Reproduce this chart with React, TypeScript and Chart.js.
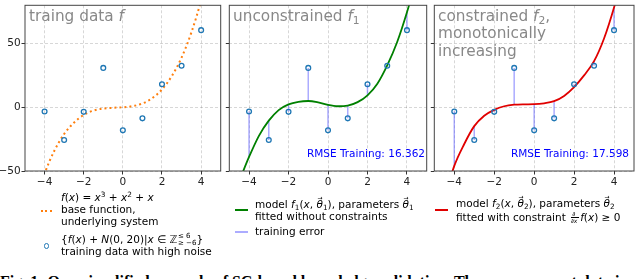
import React, { useEffect, useRef } from 'react';
import { Chart, registerables } from 'chart.js';

Chart.register(...registerables);
Chart.defaults.font.family = '"DejaVu Sans", sans-serif';

// ---------------- data ----------------
const xTicks = [-4, -2, 0, 2, 4];
const yTicks = [-50, 0, 50];
const xMin = -5;
const xMax = 5;
const yMin = -50;
const yMax = 80;

const trainX = [-4, -3, -2, -1, 0, 1, 2, 3, 4];
const trainY = [-3.3, -25.7, -3.6, 30.9, -18.1, -8.7, 18.1, 32.6, 60.5];

const curveX = [-4.5, -4, -3.5, -3, -2.5, -2, -1.5, -1, -0.5, 0, 0.5, 1, 1.5, 2, 2.5, 3, 3.5, 4, 4.5];
const baseY = [-75.4, -52, -34.1, -21, -12.1, -6, -2.6, -1, -0.4, 0, 0.9, 3, 7.1, 14, 24.4, 39, 58.6, 84, 115.9];
const model1Y = [-58, -39, -22.4, -10.5, -2.2, 2.3, 4.3, 4.9, 3.8, 1.8, 0.8, 1.3, 4.0, 9.4, 18.5, 32.9, 51, 74.5, 102];
const model2Y = [-72, -46, -28.8, -14.8, -6.6, -2.0, 0.8, 2.0, 2.3, 2.4, 3.1, 4.8, 8.9, 15.8, 25, 36.2, 54, 78.3, 108];

const rmse1 = '16.362';
const rmse2 = '17.598';

// ---------------- helpers ----------------
const FF = '"DejaVu Sans", sans-serif';
const H = 195;

const pts = (xs: number[], ys: number[]) => xs.map((x, i) => ({ x, y: ys[i] }));
const errorSegments = (modelY: number[]) => {
  const out: any[] = [];
  trainX.forEach((x, i) => {
    const m = modelY[curveX.indexOf(x)];
    out.push({ x, y: trainY[i] }, { x, y: m }, { x, y: null });
  });
  return out;
};
const fmt = (v: any) => (Number(v) < 0 ? '\u2212' + Math.abs(Number(v)) : String(v));

const pointDs = () => ({
  label: 'training data',
  data: pts(trainX, trainY),
  showLine: false,
  pointRadius: 2.4,
  pointBorderWidth: 1.3,
  pointBorderColor: '#1f77b4',
  pointBackgroundColor: 'rgba(0,0,0,0)',
  order: 0,
});
const lineDs = (label: string, ys: number[], color: string, width: number, dash: number[] = []) => ({
  label,
  data: pts(curveX, ys),
  showLine: true,
  pointRadius: 0,
  borderColor: color,
  borderWidth: width,
  borderDash: dash,
  cubicInterpolationMode: 'monotone',
  fill: false,
  clip: 0,
  order: 1,
});
const errDs = (modelY: number[]) => ({
  label: 'training error',
  data: errorSegments(modelY),
  showLine: true,
  spanGaps: false,
  pointRadius: 0,
  borderColor: 'rgba(90,90,255,0.5)',
  borderWidth: 1.5,
  clip: 0,
  order: 2,
});

const framePlugin = {
  id: 'frame',
  afterDraw(chart: any) {
    const { ctx, chartArea: a } = chart;
    ctx.save();
    ctx.strokeStyle = '#444';
    ctx.lineWidth = 1;
    ctx.strokeRect(a.left, a.top, a.right - a.left, a.bottom - a.top);
    ctx.restore();
  },
};

type PanelProps = { left: number; width: number; yWidth: number; padRight: number; showY: boolean; datasets: any[] };

function PanelChart({ left, width, yWidth, padRight, showY, datasets }: PanelProps) {
  const ref = useRef<HTMLCanvasElement>(null);
  useEffect(() => {
    const chart = new Chart(ref.current as HTMLCanvasElement, {
      type: 'scatter',
      data: { datasets },
      options: {
        animation: false,
        responsive: false,
        maintainAspectRatio: false,
        events: [],
        layout: { padding: { left: 0, right: padRight, top: 1, bottom: 0 } },
        plugins: { legend: { display: false }, tooltip: { enabled: false } },
        scales: {
          x: {
            type: 'linear',
            min: xMin,
            max: xMax,
            afterBuildTicks: (s: any) => {
              s.ticks = xTicks.map((v) => ({ value: v }));
            },
            afterFit: (s: any) => {
              s.height = H - 171;
              s.paddingLeft = 0;
              s.paddingRight = 0;
            },
            ticks: { font: { size: 10.5 }, color: '#222', padding: 1.5, maxRotation: 0, callback: (v: any) => fmt(v) },
            grid: { color: 'rgba(0,0,0,0.2)', lineWidth: 0.8, tickLength: 3.5, tickColor: '#333', tickWidth: 1, tickBorderDash: [] },
            border: { display: false, dash: [3, 2] },
          },
          y: {
            type: 'linear',
            min: yMin,
            max: yMax,
            afterBuildTicks: (s: any) => {
              s.ticks = yTicks.map((v) => ({ value: v }));
            },
            afterFit: (s: any) => {
              s.width = yWidth;
              s.paddingTop = 0;
              s.paddingBottom = 0;
            },
            ticks: { display: showY, font: { size: 10.5 }, color: '#222', padding: 0.8, callback: (v: any) => fmt(v) },
            grid: { color: 'rgba(0,0,0,0.2)', lineWidth: 0.8, tickLength: 3.5, tickColor: '#333', tickWidth: 1, tickBorderDash: [] },
            border: { display: false, dash: [3, 2] },
          },
        },
      } as any,
      plugins: [framePlugin],
    } as any);
    return () => chart.destroy();
  }, []);
  return <canvas ref={ref} width={width} height={H} style={{ position: 'absolute', left, top: 0, width, height: H }} />;
}

// ---------------- text helpers ----------------
function Txt({ x, b, s, color = '#000', right = false, children }: any) {
  const style: any = {
    position: 'absolute',
    top: b - 0.846 * s,
    fontSize: s,
    lineHeight: s + 'px',
    whiteSpace: 'nowrap',
    color,
    fontFamily: FF,
  };
  if (right) {
    style.right = 640 - x;
    style.textAlign = 'right';
  } else style.left = x;
  return <div style={style}>{children}</div>;
}
const I = ({ children }: any) => <span style={{ fontStyle: 'italic' }}>{children}</span>;
const Sup = ({ children }: any) => (
  <span style={{ fontSize: '0.7em', position: 'relative', top: '-0.55em', lineHeight: 0 }}>{children}</span>
);
const Sub = ({ children }: any) => (
  <span style={{ fontSize: '0.7em', position: 'relative', top: '0.3em', lineHeight: 0 }}>{children}</span>
);
const Theta = ({ sub }: any) => (
  <span style={{ position: 'relative' }}>
    <I>θ</I>
    <span style={{ position: 'absolute', left: 1, top: -3.5, fontSize: 6, lineHeight: '6px' }}>→</span>
    <Sub>{sub}</Sub>
  </span>
);
const Scripts = ({ up, down, w, fs }: any) => (
  <span style={{ display: 'inline-block', position: 'relative', width: w, height: 0 }}>
    <span style={{ position: 'absolute', left: 0.5, bottom: 3.0, fontSize: fs, lineHeight: fs + 'px', whiteSpace: 'nowrap' }}>{up}</span>
    <span style={{ position: 'absolute', left: 0.5, bottom: -4.6, fontSize: fs, lineHeight: fs + 'px', whiteSpace: 'nowrap' }}>{down}</span>
  </span>
);
const Frac = () => (
  <span style={{ display: 'inline-block', position: 'relative', width: 9, height: 0, margin: '0 1px' }}>
    <span style={{ position: 'absolute', left: 2, bottom: 4.1, fontSize: 6, lineHeight: '6px' }}>∂</span>
    <span style={{ position: 'absolute', left: 0.5, bottom: 3.4, width: 8, height: 0.7, background: '#000' }} />
    <span style={{ position: 'absolute', left: 0.5, bottom: -3.1, fontSize: 6, lineHeight: '6px', whiteSpace: 'nowrap' }}>
      ∂<I>x</I>
    </span>
  </span>
);
const Box = ({ l, t, w, h, bg, style }: any) => (
  <div style={{ position: 'absolute', left: l, top: t, width: w, height: h, background: bg, ...(style || {}) }} />
);

// ---------------- app ----------------
export default function App() {
  const ds1 = [pointDs(), lineDs('base function', baseY, '#ff7f0e', 2, [2, 3])];
  const ds2 = [pointDs(), lineDs('model f1', model1Y, '#008000', 1.8), errDs(model1Y)];
  const ds3 = [pointDs(), lineDs('model f2', model2Y, '#e00000', 1.8), errDs(model2Y)];
  const gray = '#888';
  const TS = 15.3;
  const LS = 10.5;
  return (
    <div style={{ position: 'relative', width: 640, height: 279, overflow: 'hidden', background: '#fff' }}>
      <style>{'body{margin:0;}'}</style>
      <PanelChart left={0} width={226} yWidth={25} padRight={3} showY={true} datasets={ds1} />
      <PanelChart left={224} width={208} yWidth={4} padRight={3} showY={false} datasets={ds2} />
      <PanelChart left={429} width={211} yWidth={4} padRight={6} showY={false} datasets={ds3} />

      {/* titles */}
      <Txt x={29} b={21.5} s={TS} color={gray}>
        traing data <I>f</I>
      </Txt>
      <Txt x={233} b={21.5} s={TS} color={gray}>
        unconstrained <I>f</I>
        <Sub>1</Sub>
      </Txt>
      <Txt x={438} b={21.5} s={TS} color={gray}>
        constrained <I>f</I>
        <Sub>2</Sub>,
      </Txt>
      <Txt x={438} b={39.3} s={TS} color={gray}>
        monotonically
      </Txt>
      <Txt x={438} b={57} s={TS} color={gray}>
        increasing
      </Txt>

      {/* RMSE */}
      <Txt x={425} b={157} s={10.5} color="#0000ff" right>
        RMSE Training: {rmse1}
      </Txt>
      <Txt x={629} b={157} s={10.5} color="#0000ff" right>
        RMSE Training: {rmse2}
      </Txt>

      {/* legend 1 */}
      <Box l={40.5} t={209.8} w={2} h={2} bg="#ff7f0e" />
      <Box l={45} t={209.8} w={2} h={2} bg="#ff7f0e" />
      <Box l={49.5} t={209.8} w={2} h={2} bg="#ff7f0e" />
      <Txt x={61} b={200.5} s={LS}>
        <I>f</I>(<I>x</I>) = <I>x</I>
        <Sup>3</Sup> + <I>x</I>
        <Sup>2</Sup> + <I>x</I>
      </Txt>
      <Txt x={61} b={212.5} s={LS}>
        base function,
      </Txt>
      <Txt x={61} b={224.5} s={LS}>
        underlying system
      </Txt>
      <Box
        l={44}
        t={243.3}
        w={5.4}
        h={5.4}
        bg="transparent"
        style={{ border: '1.3px solid #1f77b4', borderRadius: '50%', boxSizing: 'border-box' }}
      />
      <Txt x={61} b={242.5} s={LS}>
        {'{'}
        <I>f</I>(<I>x</I>) + <I>N</I>(0, 20)|<I>x</I> ∈ ℤ
        <Scripts up="≤ 6" down="≥ −6" w={19} fs={7} />
        {'}'}
      </Txt>
      <Txt x={61} b={254.5} s={LS}>
        training data with high noise
      </Txt>

      {/* legend 2 */}
      <Box l={235} t={209} w={12.5} h={2} bg="#008000" />
      <Txt x={255} b={208} s={LS}>
        model <I>f</I>
        <Sub>1</Sub>(<I>x</I>, <Theta sub="1" />
        ), parameters <Theta sub="1" />
      </Txt>
      <Txt x={255} b={219.5} s={LS}>
        fitted without constraints
      </Txt>
      <Box l={235} t={231.3} w={12.5} h={1.5} bg="rgba(90,90,255,0.5)" />
      <Txt x={255} b={235} s={LS}>
        training error
      </Txt>

      {/* legend 3 */}
      <Box l={435} t={209} w={13} h={2} bg="#e00000" />
      <Txt x={456} b={207} s={LS}>
        model <I>f</I>
        <Sub>2</Sub>(<I>x</I>, <Theta sub="2" />
        ), parameters <Theta sub="2" />
      </Txt>
      <Txt x={456} b={220.5} s={LS}>
        fitted with constraint <Frac />
        <I>f</I>(<I>x</I>) ≥ 0
      </Txt>

      {/* caption (cut off at the bottom edge) */}
      <div
        style={{
          position: 'absolute',
          left: 0,
          top: 274.3,
          fontFamily: '"Liberation Serif", serif',
          fontWeight: 'bold',
          fontSize: 16,
          lineHeight: '16px',
          whiteSpace: 'nowrap',
          color: '#000',
        }}
      >
        Fig. 1: Oversimplified example of SC-based knowledge validation. The measurement data is
      </div>
    </div>
  );
}
